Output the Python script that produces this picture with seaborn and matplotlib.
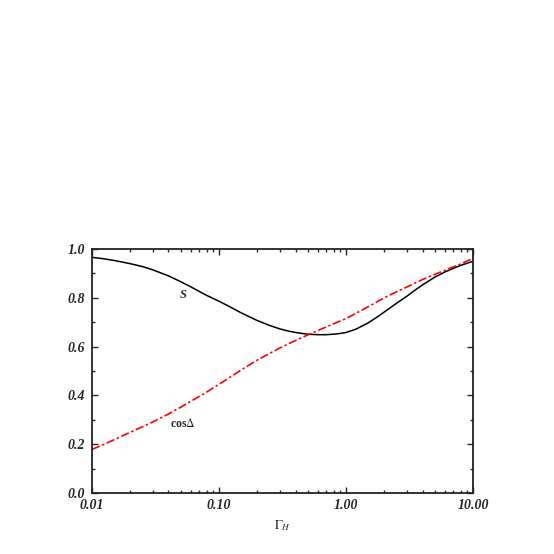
import numpy as np
import pandas as pd
import matplotlib
matplotlib.use("Agg")
import matplotlib.pyplot as plt
import matplotlib.ticker as mticker
import seaborn as sns

# values
gamma_h = [0.01, 0.012, 0.015, 0.02, 0.025, 0.03, 0.04, 0.05, 0.06, 0.07, 0.08,
           0.1, 0.12, 0.15, 0.2, 0.25, 0.3, 0.35, 0.4, 0.45, 0.5, 0.6, 0.7, 0.8,
           0.9, 1.0, 1.2, 1.5, 1.8, 2.0, 2.5, 3.0, 3.5, 4.0, 5.0, 6.0, 7.0, 8.0, 10.0]
s_vals = [0.966, 0.961, 0.953, 0.940, 0.928, 0.915, 0.890, 0.866, 0.845, 0.826, 0.810,
          0.786, 0.765, 0.738, 0.707, 0.687, 0.673, 0.664, 0.658, 0.654, 0.651, 0.649,
          0.649, 0.651, 0.654, 0.658, 0.672, 0.698, 0.725, 0.742, 0.778, 0.806, 0.832,
          0.853, 0.885, 0.906, 0.921, 0.933, 0.950]
cos_vals = [0.179, 0.196, 0.219, 0.249, 0.272, 0.291, 0.324, 0.352, 0.376, 0.396, 0.414,
            0.446, 0.472, 0.505, 0.545, 0.572, 0.594, 0.611, 0.625, 0.637, 0.648, 0.666,
            0.681, 0.694, 0.705, 0.715, 0.737, 0.764, 0.787, 0.800, 0.825, 0.844, 0.861,
            0.875, 0.896, 0.913, 0.927, 0.939, 0.962]

x_ticks = [0.01, 0.1, 1.0, 10.0]
x_tick_labels = ["0.01", "0.10", "1.00", "10.00"]
y_ticks = [0.0, 0.2, 0.4, 0.6, 0.8, 1.0]

df = pd.DataFrame({"gamma": gamma_h, "S": s_vals, "cos": cos_vals})

sns.set_style("ticks")
plt.rcParams["font.family"] = ["Liberation Serif", "DejaVu Serif"]
plt.rcParams["mathtext.fontset"] = "stix"

fig = plt.figure(figsize=(5.54, 5.54), dpi=100)
ax = fig.add_axes([0.166, 0.110, 0.688, 0.4405])

sns.lineplot(data=df, x="gamma", y="S", ax=ax, color="black", linewidth=1.1)
sns.lineplot(data=df, x="gamma", y="cos", ax=ax, color="red", linewidth=1.2,
             linestyle=(0, (5, 1.6, 1.4, 1.6)))

ax.set_xscale("log")
ax.set_xlim(0.01, 10)
ax.set_ylim(0, 1)

ax.set_xticks(x_ticks)
ax.set_xticklabels(x_tick_labels)
ax.xaxis.set_minor_locator(mticker.LogLocator(base=10, subs=np.arange(2, 10)))
ax.xaxis.set_minor_formatter(mticker.NullFormatter())
ax.set_yticks(y_ticks)
ax.set_yticklabels([f"{v:.1f}" for v in y_ticks])
ax.yaxis.set_minor_locator(mticker.MultipleLocator(0.1))

ax.tick_params(which="both", direction="in", top=True, right=True, width=1.0)
ax.tick_params(which="major", length=4.5)
ax.tick_params(which="minor", length=2.5)
ax.tick_params(axis="x", which="major", pad=4)
ax.tick_params(axis="y", which="major", pad=5)
for lab in ax.get_xticklabels() + ax.get_yticklabels():
    lab.set_fontsize(10)
    lab.set_fontweight("bold")
    lab.set_fontstyle("italic")

for sp in ax.spines.values():
    sp.set_linewidth(1.3)
    sp.set_color("#222222")

ax.set_xlabel(r"$\Gamma_{H}$", fontsize=9.5, labelpad=5)
ax.set_ylabel("")

ax.text(0.052, 0.81, "S", fontsize=9, fontstyle="italic", fontweight="bold",
        ha="center", va="center")
ax.text(0.052, 0.287, r"cos$\Delta$", fontsize=8.5, fontweight="bold",
        ha="center", va="center")

fig.savefig("out.png", dpi=100)
